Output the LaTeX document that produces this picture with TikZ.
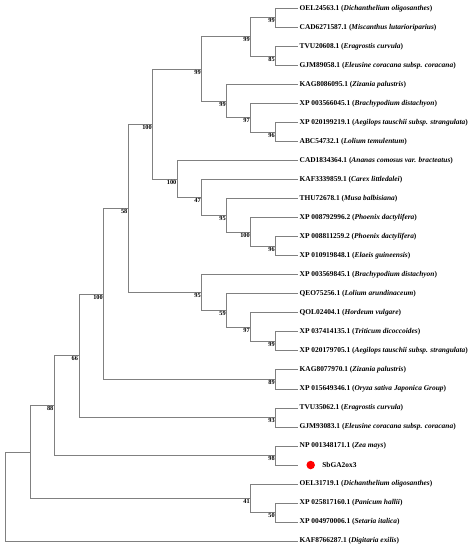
\documentclass[tikz,border=0pt]{standalone}
\usepackage{fontspec}
\setmainfont{Liberation Serif}
\usetikzlibrary{positioning}

\begin{document}
\begin{tikzpicture}[x=1pt, y=-1pt,
    branch/.style={draw=black!50, line width=0.8pt},
    leaf/.style={anchor=west, inner sep=1.5pt, font=\bfseries\fontsize{7.4}{8}\selectfont},
    boot/.style={anchor=north east, inner sep=0.8pt, font=\bfseries\fontsize{6.3}{7}\selectfont},
    query/.style={circle, fill=red, minimum size=8.5pt, inner sep=0pt}
  ]
  \useasboundingbox (0,0) rectangle (468,550);

  % Leaves, top to bottom (tip of each branch and its label)
  \foreach \i/\acc/\sp in {
      1/OEL24563.1/Dichanthelium oligosanthes,
      2/CAD6271587.1/Miscanthus lutarioriparius,
      3/TVU20608.1/Eragrostis curvula,
      4/GJM89058.1/Eleusine coracana subsp. coracana,
      5/KAG8086095.1/Zizania palustris,
      6/XP 003566045.1/Brachypodium distachyon,
      7/XP 020199219.1/Aegilops tauschii subsp. strangulata,
      8/ABC54732.1/Lolium temulentum,
      9/CAD1834364.1/Ananas comosus var. bracteatus,
      10/KAF3339859.1/Carex littledalei,
      11/THU72678.1/Musa balbisiana,
      12/XP 008792996.2/Phoenix dactylifera,
      13/XP 008811259.2/Phoenix dactylifera,
      14/XP 010919848.1/Elaeis guineensis,
      15/XP 003569845.1/Brachypodium distachyon,
      16/QEO75256.1/Lolium arundinaceum,
      17/QOL02404.1/Hordeum vulgare,
      18/XP 037414135.1/Triticum dicoccoides,
      19/XP 020179705.1/Aegilops tauschii subsp. strangulata,
      20/KAG8077970.1/Zizania palustris,
      21/XP 015649346.1/Oryza sativa Japonica Group,
      22/TVU35062.1/Eragrostis curvula,
      23/GJM93083.1/Eleusine coracana subsp. coracana,
      24/NP 001348171.1/Zea mays,
      26/OEL31719.1/Dichanthelium oligosanthes,
      27/XP 025817160.1/Panicum hallii,
      28/XP 004970006.1/Setaria italica,
      29/KAF8766287.1/Digitaria exilis} {
    \coordinate (e\i) at (298, {8.3+(\i-1)*19.03});
    \node[leaf] (l\i) at (e\i) {\acc\ (\textit{\sp})};
  }

  % Query sequence marked with a red dot
  \coordinate (e25) at (298, {8.3+24*19.03});
  \node[query] (sb_dot) at (310.7, {8.3+24*19.03}) {};
  \node[leaf, right=5.5pt of sb_dot] (l25) {SbGA2ox3};

  % Internal nodes
  \coordinate (root) at (5, 496.6);
  \coordinate (nA) at (30, 452);
  \coordinate (nB) at (54.3, 405.6);
  \coordinate (nC) at (79, 355.7);
  \coordinate (nD) at (103.7, 293.9);
  \coordinate (nE) at (128.3, 208.3);
  \coordinate (nF) at (152.7, 124);
  \coordinate (nG) at (201.7, 68.9);
  \coordinate (nG1) at (250.7, 36.8);
  \coordinate (nG11) at (275.7, 17.8);
  \coordinate (nG12) at (275.7, 55.9);
  \coordinate (nG2) at (226.7, 101);
  \coordinate (nG21) at (250.7, 117.7);
  \coordinate (nG22) at (275.7, 132);
  \coordinate (nH) at (177.3, 179);
  \coordinate (nH1) at (201.7, 197.4);
  \coordinate (nH2) at (226.7, 215.3);
  \coordinate (nH3) at (250.7, 231.9);
  \coordinate (nH4) at (275.7, 246.2);
  \coordinate (nK) at (201.7, 292.6);
  \coordinate (nK1) at (226.7, 310.4);
  \coordinate (nK2) at (250.7, 327.1);
  \coordinate (nK3) at (275.7, 341.3);
  \coordinate (nM) at (275.7, 379.4);
  \coordinate (nN) at (275.7, 417.5);
  \coordinate (nP) at (275.7, 455.5);
  \coordinate (nQ) at (250.7, 498.3);
  \coordinate (nQ1) at (275.7, 512.6);

  % Branches (parent/child)
  \foreach \p/\c in {root/nA, root/e29, nA/nB, nA/nQ, nB/nC, nB/nP,
      nC/nD, nC/nN, nD/nE, nD/nM, nE/nF, nE/nK, nF/nG, nF/nH,
      nG/nG1, nG/nG2, nG1/nG11, nG1/nG12,
      nG11/e1, nG11/e2, nG12/e3, nG12/e4,
      nG2/e5, nG2/nG21, nG21/e6, nG21/nG22, nG22/e7, nG22/e8,
      nH/e9, nH/nH1, nH1/e10, nH1/nH2, nH2/e11, nH2/nH3,
      nH3/e12, nH3/nH4, nH4/e13, nH4/e14,
      nK/e15, nK/nK1, nK1/e16, nK1/nK2, nK2/e17, nK2/nK3, nK3/e18, nK3/e19,
      nM/e20, nM/e21, nN/e22, nN/e23, nP/e24, nP/e25,
      nQ/e26, nQ/nQ1, nQ1/e27, nQ1/e28} {
    \draw[branch] (\p) |- (\c);
  }

  % Bootstrap values
  \foreach \n/\b in {nB/88, nC/66, nD/100, nE/58, nF/100, nG/99, nG1/99,
      nG11/99, nG12/85, nG2/99, nG21/97, nG22/96, nH/100, nH1/47, nH2/95,
      nH3/100, nH4/96, nK/95, nK1/59, nK2/97, nK3/99, nM/89, nN/93, nP/98,
      nQ/41, nQ1/50} {
    \node[boot] (b-\n) at (\n) {\b};
  }
\end{tikzpicture}
\end{document}
